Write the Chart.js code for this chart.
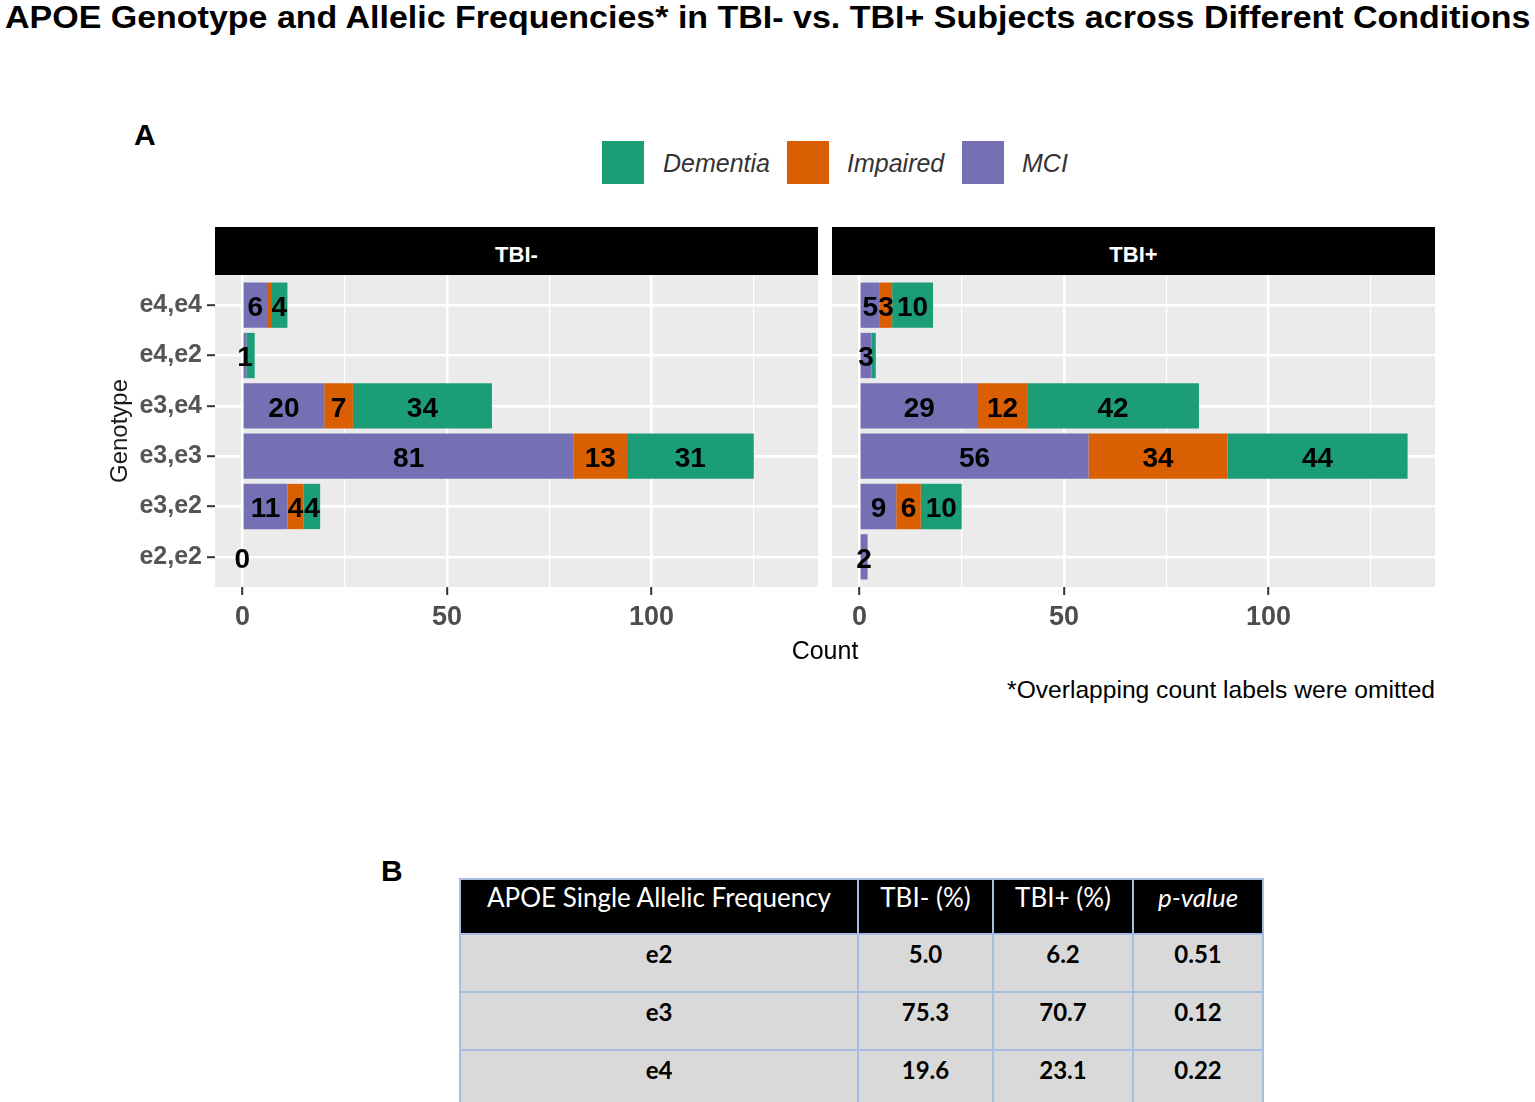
<!DOCTYPE html>
<html><head><meta charset="utf-8">
<script src="https://cdn.jsdelivr.net/npm/chart.js@4.4.1/dist/chart.umd.min.js"></script>
<style>
html,body{margin:0;padding:0;background:#fff;width:1535px;height:1102px;overflow:hidden;font-family:"Liberation Sans",Arial,sans-serif;}
.abs{position:absolute;}
#title{left:5px;top:-3px;font-weight:bold;font-size:32px;line-height:40px;white-space:nowrap;color:#000;transform-origin:0 0;}
.panelLetter{font-weight:bold;font-size:30px;line-height:34px;color:#000;}
.sw{width:42px;height:43px;}
.lg{font-style:italic;font-size:25px;line-height:30px;color:#333;white-space:nowrap;}
.strip{background:#000;color:#fff;font-weight:bold;font-size:22px;height:48px;line-height:55px;text-align:center;overflow:hidden;}
#tbl{position:absolute;left:459px;top:878px;border-collapse:collapse;font-family:Lato,"Open Sans",sans-serif;table-layout:fixed;}
#tbl th{background:#000;color:#fff;font-weight:normal;font-size:26px;height:55px;border:2px solid #A7BDE3;vertical-align:top;padding:1px 0 0 0;text-align:center;box-sizing:border-box;}
#tbl td{background:#D9D9D9;color:#000;font-weight:bold;font-size:24px;height:58px;border:2px solid #A7BDE3;vertical-align:top;padding:4px 0 0 0;text-align:center;box-sizing:border-box;}
</style></head><body>
<div id="title" class="abs">APOE Genotype and Allelic Frequencies* in TBI- vs. TBI+ Subjects across Different Conditions</div>
<div class="abs panelLetter" style="left:134px;top:118px;">A</div>
<div id="legend"></div>
<div class="abs strip" style="left:215px;top:227px;width:603px;">TBI-</div>
<div class="abs strip" style="left:832px;top:227px;width:603px;">TBI+</div>
<div class="abs" style="left:0;top:255px;width:818px;height:382px;"><canvas id="cNeg"></canvas></div>
<div class="abs" style="left:832px;top:255px;width:603px;height:382px;"><canvas id="cPos"></canvas></div>
<div class="abs" style="left:725px;top:635px;width:200px;text-align:center;font-size:25px;line-height:30px;color:#000;">Count</div>
<div class="abs" style="left:835px;top:676px;width:600px;text-align:right;font-size:24.6px;line-height:28px;color:#000;">*Overlapping count labels were omitted</div>
<div class="abs panelLetter" style="left:381px;top:854px;">B</div>
<table id="tbl"></table>
<script>
// ---------- Data ----------
const genotypes = ["e4,e4","e4,e2","e3,e4","e3,e3","e3,e2","e2,e2"];
const conditions = ["MCI","Impaired","Dementia"];
const legendOrder = ["Dementia","Impaired","MCI"];
const mciNeg      = [6, 1, 20, 81, 11, 0];
const impairedNeg = [1, 0,  7, 13,  4, 0];
const dementiaNeg = [4, 2, 34, 31,  4, 0];
const mciPos      = [5, 3, 29, 56,  9, 2];
const impairedPos = [3, 0, 12, 34,  6, 0];
const dementiaPos = [10, 1, 42, 44, 10, 0];
const xTickValues = [0, 25, 50, 75, 100, 125];
const xTickLabels = [0, 50, 100];
const omittedLabels = [["TBI-","Impaired","e4,e4"],["TBI-","Dementia","e4,e2"],["TBI+","Dementia","e4,e2"]];
const alleles = ["e2","e3","e4"];
const tbiNegPct = [5.0, 75.3, 19.6];
const tbiPosPct = [6.2, 70.7, 23.1];
const pValues = [0.51, 0.12, 0.22];
const tableHeaders = ["APOE Single Allelic Frequency","TBI- (%)","TBI+ (%)","p-value"];

const colors = {MCI:"#7570B3", Impaired:"#D95F02", Dementia:"#1B9E77"};
const xMin = -6.7, xMax = 140.7;

// ---------- Title fit ----------
const t = document.getElementById('title');
t.style.transform = 'scaleX(' + (1525 / t.scrollWidth) + ')';

// ---------- Legend ----------
const legendPos = {Dementia:[602,663], Impaired:[787,847], MCI:[962,1022]};
const lg = document.getElementById('legend');
legendOrder.forEach(c => {
  const s = document.createElement('div'); s.className='abs sw';
  s.style.left = legendPos[c][0]+'px'; s.style.top='141px'; s.style.background = colors[c];
  lg.appendChild(s);
  const l = document.createElement('div'); l.className='abs lg';
  l.style.left = legendPos[c][1]+'px'; l.style.top='148px'; l.textContent = c;
  lg.appendChild(l);
});

// ---------- Table ----------
const tbl = document.getElementById('tbl');
const colW = [398,135,140,130];
let html = '<colgroup>' + colW.map(w=>'<col style="width:'+w+'px">').join('') + '</colgroup><tr>';
tableHeaders.forEach((h,i)=>{ html += '<th>' + (i===3 ? '<i>'+h+'</i>' : h) + '</th>'; });
html += '</tr>';
alleles.forEach((a,i)=>{
  html += '<tr><td>'+a+'</td><td>'+tbiNegPct[i].toFixed(1)+'</td><td>'+tbiPosPct[i].toFixed(1)+'</td><td>'+pValues[i].toFixed(2)+'</td></tr>';
});
tbl.innerHTML = html;

// ---------- Plugins ----------
const panelBg = {
  id:'panelBg',
  beforeDraw(chart){
    const {ctx, chartArea:a} = chart;
    ctx.save(); ctx.fillStyle = '#EBEBEB';
    ctx.fillRect(a.left, a.top, a.right-a.left, a.bottom-a.top);
    ctx.restore();
  }
};
const countLabels = {
  id:'countLabels',
  afterDatasetsDraw(chart){
    const panel = chart.options.plugins.countLabels.panel;
    const {ctx} = chart;
    ctx.save();
    ctx.font = 'bold 28px "Liberation Sans", Arial, sans-serif';
    ctx.fillStyle = '#000'; ctx.textAlign='center'; ctx.textBaseline='middle';
    chart.data.datasets.forEach((ds, d) => {
      const meta = chart.getDatasetMeta(d);
      meta.data.forEach((el, i) => {
        const v = ds.data[i].x;
        const g = genotypes[i];
        const total = chart.data.datasets.reduce((s, dd) => s + dd.data[i].x, 0);
        let show = v > 0 && !omittedLabels.some(o => o[0]===panel && o[1]===ds.label && o[2]===g);
        if (total === 0 && d === 0) show = true;
        if (!show) return;
        ctx.fillText(String(v), (el.x + el.base)/2, el.y + 3);
      });
    });
    ctx.restore();
  }
};

function makeChart(id, panel, series, first){
  const datasets = conditions.map((c, k) => ({
    label: c,
    data: series[k].map((v, i) => ({x: v, y: i})),
    backgroundColor: colors[c],
    borderWidth: 0,
    barPercentage: 0.9,
    categoryPercentage: 1.0
  }));
  return new Chart(document.getElementById(id), {
    type: 'bar',
    data: { datasets },
    options: {
      indexAxis: 'y',
      responsive: true,
      maintainAspectRatio: false,
      animation: false,
      layout: { padding: { top: 20, right: 0, bottom: 0, left: 0 } },
      plugins: { legend: {display:false}, tooltip: {enabled:false}, countLabels: {panel} },
      scales: {
        x: {
          type: 'linear', stacked: true, min: xMin, max: xMax, offset: false,
          afterFit(s){ s.height = 50; },
          afterBuildTicks(s){ s.ticks = xTickValues.map(v => ({value: v})); },
          border: {display:false},
          grid: {
            offset: false,
            color: '#FFFFFF',
            lineWidth: c => xTickLabels.includes(c.tick.value) ? 2.4 : 1.2,
            tickColor: c => xTickLabels.includes(c.tick.value) ? '#333333' : 'rgba(0,0,0,0)',
            tickLength: 8, tickWidth: 2
          },
          ticks: {
            autoSkip: false, maxRotation: 0, padding: 6,
            color: '#4D4D4D',
            font: {family: '"Liberation Sans", Arial, sans-serif', size: 27, weight: 'bold'},
            callback: v => xTickLabels.includes(v) ? String(v) : ''
          }
        },
        y: {
          type: 'linear', stacked: true, reverse: true, offset: false,
          min: -0.6, max: genotypes.length - 0.4,
          afterFit(s){ s.width = first ? 215 : 0; },
          afterBuildTicks(s){ s.ticks = genotypes.map((g, i) => ({value: i})); },
          border: {display:false},
          grid: {
            offset: false,
            color: '#FFFFFF', lineWidth: 2.4,
            drawTicks: first, tickColor: '#333333', tickLength: 8, tickWidth: 2
          },
          ticks: {
            display: first, autoSkip: false, padding: 5,
            color: '#555555',
            font: {family: '"Liberation Sans", Arial, sans-serif', size: 25, weight: 'bold'},
            callback: v => genotypes[v] ?? ''
          },
          title: {
            display: first, text: 'Genotype', color: '#1A1A1A',
            font: {family: '"Liberation Sans", Arial, sans-serif', size: 24},
            padding: {top: 105.6, bottom: 0}
          }
        }
      }
    },
    plugins: [panelBg, countLabels]
  });
}
makeChart('cNeg', 'TBI-', [mciNeg, impairedNeg, dementiaNeg], true);
makeChart('cPos', 'TBI+', [mciPos, impairedPos, dementiaPos], false);
</script>
</body></html>
